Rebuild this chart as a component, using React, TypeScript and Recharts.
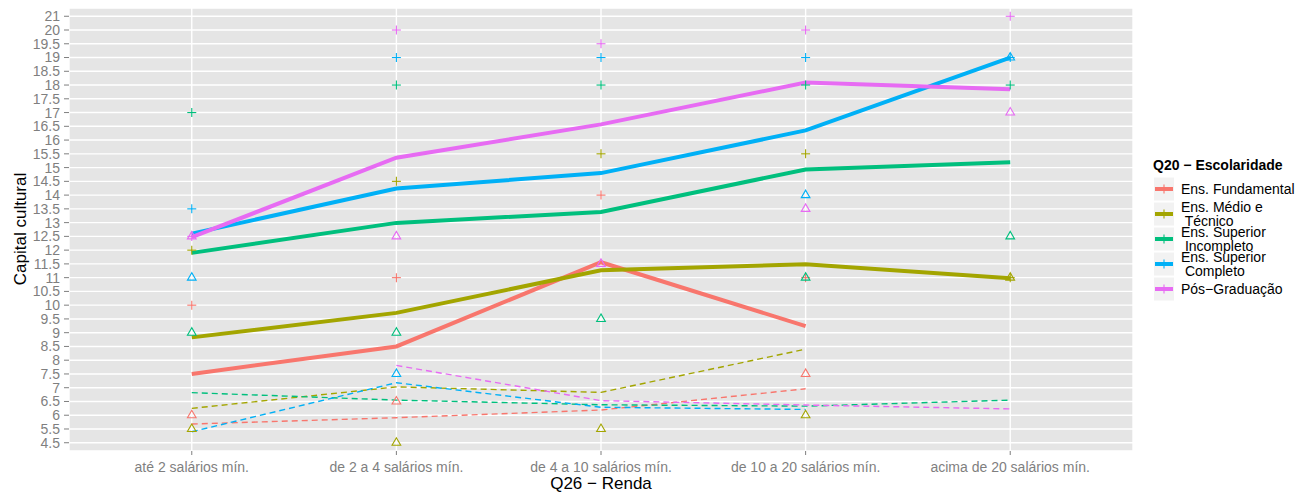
import React from 'react';
import { ComposedChart, Line, Scatter, XAxis, YAxis, CartesianGrid } from 'recharts';

const FONT = '"Liberation Sans", Arial, Helvetica, sans-serif';

const CATEGORIES = [
  'até 2 salários mín.',
  'de 2 a 4 salários mín.',
  'de 4 a 10 salários mín.',
  'de 10 a 20 salários mín.',
  'acima de 20 salários mín.',
];

// the y axis is discrete in the original: these are its levels (no 5, no 20.5)
const Y_LEVELS = [
  4.5, 5.5, 6, 6.5, 7, 7.5, 8, 8.5, 9, 9.5, 10, 10.5, 11, 11.5, 12, 12.5,
  13, 13.5, 14, 14.5, 15, 15.5, 16, 16.5, 17, 17.5, 18, 18.5, 19, 19.5, 20, 21,
];

const SERIES_KEYS = ['fund', 'medio', 'supInc', 'supComp', 'pos'];
const SERIES_NAMES = [
  'Ens. Fundamental',
  'Ens. Médio e\n Técnico',
  'Ens. Superior\n Incompleto',
  'Ens. Superior\n Completo',
  'Pós−Graduação',
];
const COLORS = ['#F8766D', '#A3A500', '#00BF7D', '#00B0F6', '#E76BF3'];

// solid lines
const FUND_MEAN = [7.5, 8.5, 11.56, 9.24, null];
const MEDIO_MEAN = [8.83, 9.72, 11.27, 11.49, 10.98];
const SUPINC_MEAN = [11.9, 12.99, 13.39, 14.93, 15.19];
const SUPCOMP_MEAN = [12.6, 14.24, 14.8, 16.35, 19.0];
const POS_MEAN = [12.47, 15.36, 16.57, 18.09, 17.85];

// dashed lines
const FUND_SD = [5.68, 5.91, 6.19, 6.96, null];
const MEDIO_SD = [6.25, 7.03, 6.83, 8.4, null];
const SUPINC_SD = [6.82, 6.55, 6.38, 6.33, 6.55];
const SUPCOMP_SD = [5.3, 7.18, 6.29, 6.21, null];
const POS_SD = [null, 7.81, 6.53, 6.37, 6.23];

// "+" markers
const FUND_MAX = [10, 11, 14, 11, null];
const MEDIO_MAX = [12, 14.5, 15.5, 15.5, 11];
const SUPINC_MAX = [17, 18, 18, 18, 18];
const SUPCOMP_MAX = [13.5, 19, 19, 19, 19];
const POS_MAX = [12.5, 20, 19.5, 20, 21];

// triangle markers
const FUND_MIN = [6, 6.5, null, 7.5, null];
const MEDIO_MIN = [5.5, 4.5, 5.5, 6, 11];
const SUPINC_MIN = [9, 9, 9.5, 11, 12.5];
const SUPCOMP_MIN = [11, 7.5, null, 14, 19];
const POS_MIN = [12.5, 12.5, 11.5, 13.5, 17];

const MEANS = [FUND_MEAN, MEDIO_MEAN, SUPINC_MEAN, SUPCOMP_MEAN, POS_MEAN];
const SDS = [FUND_SD, MEDIO_SD, SUPINC_SD, SUPCOMP_SD, POS_SD];
const MAXS = [FUND_MAX, MEDIO_MAX, SUPINC_MAX, SUPCOMP_MAX, POS_MAX];
const MINS = [FUND_MIN, MEDIO_MIN, SUPINC_MIN, SUPCOMP_MIN, POS_MIN];

// value on the label scale -> position on the discrete axis (1..32)
function toPos(v: number | null) {
  if (v == null) return null;
  const L = Y_LEVELS;
  let i = 0;
  while (i < L.length - 2 && v > L[i + 1]) i++;
  return i + 1 + (v - L[i]) / (L[i + 1] - L[i]);
}

const rows = CATEGORIES.map((c, i) => {
  const r: any = { x: i + 1, cat: c };
  SERIES_KEYS.forEach((k, s) => {
    r[k + '_mean'] = toPos(MEANS[s][i]);
    r[k + '_sd'] = toPos(SDS[s][i]);
    r[k + '_max'] = toPos(MAXS[s][i]);
    r[k + '_min'] = toPos(MINS[s][i]);
  });
  return r;
});

const Y_TICKS = Y_LEVELS.map((_, i) => i + 1);
const X_TICKS = CATEGORIES.map((_, i) => i + 1);

const plusShape = (color: string) => (props: any) => {
  const { cx, cy } = props;
  if (!Number.isFinite(cx) || !Number.isFinite(cy)) return <g />;
  return (
    <g stroke={color} strokeWidth={1.1}>
      <line x1={cx - 4.5} x2={cx + 4.5} y1={cy} y2={cy} />
      <line x1={cx} x2={cx} y1={cy - 4.5} y2={cy + 4.5} />
    </g>
  );
};

const triShape = (color: string) => (props: any) => {
  const { cx, cy } = props;
  if (!Number.isFinite(cx) || !Number.isFinite(cy)) return <g />;
  const r = 5;
  const pts = `${cx},${cy - r} ${cx - r * 0.87},${cy + r * 0.5} ${cx + r * 0.87},${cy + r * 0.5}`;
  return <polygon points={pts} fill="none" stroke={color} strokeWidth={1.1} />;
};

function Legend() {
  return (
    <g fontFamily={FONT}>
      <text x={1153} y={170} fontSize={14} fontWeight="bold" fill="#000">
        Q20 − Escolaridade
      </text>
      {SERIES_NAMES.map((name, i) => {
        const cy = 189 + i * 25;
        const lines = name.split('\n');
        return (
          <g key={name}>
            <rect x={1153.5} y={cy - 12} width={21} height={24} fill="#F2F2F2" stroke="#fff" strokeWidth={1} />
            <line x1={1155} x2={1173} y1={cy} y2={cy} stroke={COLORS[i]} strokeWidth={4} />
            <line x1={1164} x2={1164} y1={cy - 4.5} y2={cy + 4.5} stroke={COLORS[i]} strokeWidth={1.1} />
            {lines.length === 1 ? (
              <text x={1181} y={cy + 5} fontSize={14} fill="#000">{lines[0]}</text>
            ) : (
              <>
                <text x={1181} y={cy - 2} fontSize={14} fill="#000" style={{ whiteSpace: 'pre' }}>{lines[0]}</text>
                <text x={1181} y={cy + 12} fontSize={14} fill="#000" style={{ whiteSpace: 'pre' }}>{lines[1]}</text>
              </>
            )}
          </g>
        );
      })}
    </g>
  );
}

export default function App() {
  const tickStyle = { fill: '#7F7F7F', fontSize: 14, fontFamily: FONT };
  return (
    <div style={{ position: 'absolute', left: 0, top: 0, width: 1299, height: 494, background: '#fff' }}>
      <ComposedChart width={1299} height={494} data={rows} margin={{ top: 8, right: 166, bottom: 0, left: 9 }}>
        <CartesianGrid stroke="#FFFFFF" strokeWidth={1.4} fill="#E5E5E5" fillOpacity={1} />
        <XAxis
          type="number"
          dataKey="x"
          domain={[0.4, 5.6]}
          allowDataOverflow
          ticks={X_TICKS}
          interval={0}
          tickFormatter={(v: number) => CATEGORIES[v - 1] ?? ''}
          height={43}
          tickSize={4}
          tickMargin={7}
          axisLine={false}
          tickLine={{ stroke: '#7F7F7F' }}
          tick={tickStyle}
        />
        <YAxis
          type="number"
          domain={[0.4, 32.6]}
          allowDataOverflow
          ticks={Y_TICKS}
          interval={0}
          tickFormatter={(v: number) => String(Y_LEVELS[v - 1] ?? '')}
          width={60}
          tickSize={5}
          tickMargin={4}
          axisLine={false}
          tickLine={{ stroke: '#7F7F7F' }}
          tick={tickStyle}
        />
        {SERIES_KEYS.map((k, s) => (
          <Line key={k + 'm'} dataKey={k + '_mean'} stroke={COLORS[s]} strokeWidth={4} dot={false} activeDot={false} isAnimationActive={false} />
        ))}
        {SERIES_KEYS.map((k, s) => (
          <Line key={k + 's'} dataKey={k + '_sd'} stroke={COLORS[s]} strokeWidth={1.4} strokeDasharray="6 4" dot={false} activeDot={false} isAnimationActive={false} />
        ))}
        {SERIES_KEYS.map((k, s) => (
          <Scatter key={k + 'x'} data={rows} dataKey={k + '_max'} shape={plusShape(COLORS[s])} isAnimationActive={false} />
        ))}
        {SERIES_KEYS.map((k, s) => (
          <Scatter key={k + 'n'} data={rows} dataKey={k + '_min'} shape={triShape(COLORS[s])} isAnimationActive={false} />
        ))}
      </ComposedChart>
      <svg width={1299} height={494} style={{ position: 'absolute', left: 0, top: 0, pointerEvents: 'none' }}>
        <text x={26} y={229} transform="rotate(-90, 26, 229)" textAnchor="middle" fontSize={17} fontFamily={FONT} fill="#000">
          Capital cultural
        </text>
        <text x={601} y={489} textAnchor="middle" fontSize={17} fontFamily={FONT} fill="#000">
          Q26 − Renda
        </text>
        <Legend />
      </svg>
    </div>
  );
}
